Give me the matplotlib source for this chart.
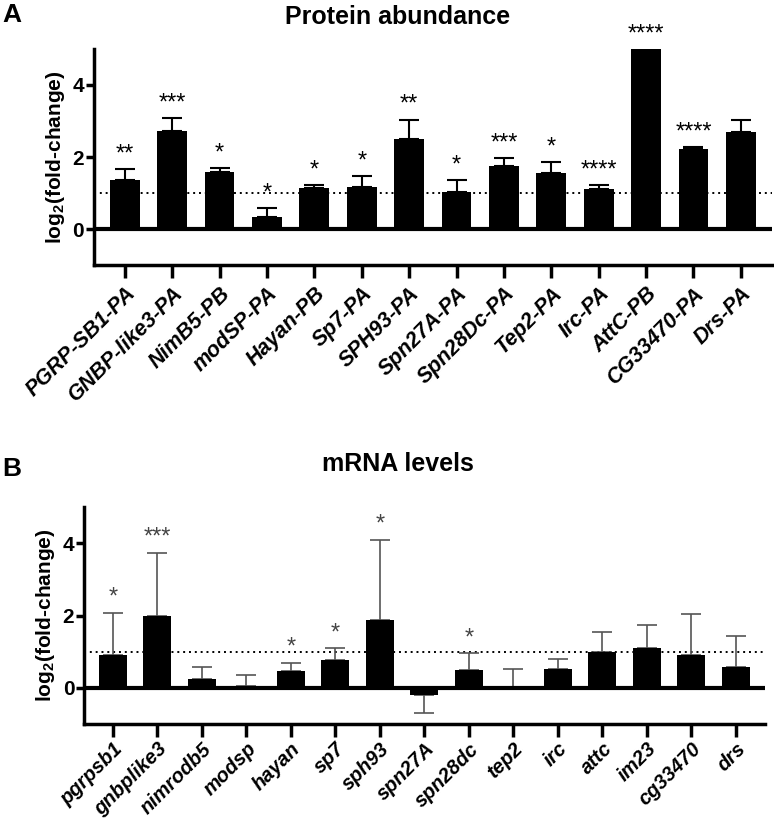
import numpy as np
import matplotlib
matplotlib.use('Agg')
from matplotlib import pyplot as plt

plt.rcParams['font.family'] = ['Liberation Sans', 'DejaVu Sans']
plt.rcParams['mathtext.fontset'] = 'custom'
plt.rcParams['mathtext.rm'] = 'Liberation Sans:bold'
plt.rcParams['mathtext.bf'] = 'Liberation Sans:bold'

# panel A - protein abundance
prot_names = ['PGRP-SB1-PA', 'GNBP-like3-PA', 'NimB5-PB', 'modSP-PA', 'Hayan-PB', 'Sp7-PA',
              'SPH93-PA', 'Spn27A-PA', 'Spn28Dc-PA', 'Tep2-PA', 'Irc-PA', 'AttC-PB',
              'CG33470-PA', 'Drs-PA']
prot_mean = [1.37, 2.73, 1.57, 0.34, 1.14, 1.17, 2.50, 1.02, 1.76, 1.56, 1.12, 5.0, 2.21, 2.70]
prot_err = [0.30, 0.36, 0.12, 0.25, 0.09, 0.30, 0.54, 0.35, 0.20, 0.31, 0.11, 0.0, 0.07, 0.34]
prot_sig = ['**', '***', '*', '*', '*', '*', '**', '*', '***', '*', '****', '****', '****', '']

# panel B - mRNA levels
mrna_names = ['pgrpsb1', 'gnbplike3', 'nimrodb5', 'modsp', 'hayan', 'sp7', 'sph93', 'spn27A',
              'spn28dc', 'tep2', 'irc', 'attc', 'im23', 'cg33470', 'drs']
mrna_mean = [0.91, 2.00, 0.24, 0.06, 0.47, 0.78, 1.88, -0.21, 0.50, 0.0, 0.51, 0.98, 1.09, 0.91, 0.59]
mrna_err = [1.17, 1.74, 0.34, 0.30, 0.23, 0.32, 2.22, 0.49, 0.45, 0.52, 0.28, 0.56, 0.64, 1.13, 0.83]
mrna_sig = ['*', '***', '', '', '*', '*', '*', '', '*', '', '', '', '', '', '']


def bar_panel(ax, names, mean, err, sig, ecolor, scolor, elw, lsize, lpad):
    x = np.arange(len(names))
    mean = np.array(mean)
    err = np.array(err)
    lo = np.where(mean < 0, err, 0)
    hi = np.where(mean < 0, 0, err)
    ax.bar(x, mean, width=0.63, color='black', zorder=2)
    ax.errorbar(x, mean, yerr=[lo, hi], fmt='none', ecolor=ecolor, elinewidth=elw,
                capsize=7, capthick=elw, zorder=1)
    for xi, m, e, s in zip(x, mean, err, sig):
        if s:
            top = max(m, 0) + (e if m >= 0 else 0)
            ax.text(xi, top + 0.1, s, ha='center', va='bottom', fontsize=17,
                    color=scolor, clip_on=False)
    ax.axhline(0, color='black', lw=3, zorder=3)
    ax.axhline(1, color='black', lw=1.4, ls=(0, (1, 2)), zorder=0)
    ax.set_xlim(-0.65, len(names) - 0.35)
    ax.set_ylim(-1, 5)
    ax.set_yticks([0, 2, 4])
    ax.set_xticks(x)
    ax.set_xticklabels(names, rotation=45, ha='right', rotation_mode='anchor',
                       fontsize=lsize, fontweight='bold', style='italic')
    for lab in ax.get_yticklabels():
        lab.set_fontweight('bold')
    ax.tick_params(axis='y', labelsize=15, width=2.5, length=6, pad=1)
    ax.tick_params(axis='x', width=2.5, length=9, pad=lpad)
    ax.spines['top'].set_visible(False)
    ax.spines['right'].set_visible(False)
    ax.spines['left'].set_linewidth(2.5)
    ax.spines['bottom'].set_linewidth(2.5)
    ax.set_ylabel(r'log$_\mathbf{2}$(fold-change)', fontsize=15, fontweight='bold', labelpad=4)


fig = plt.figure(figsize=(7.74, 8.22), dpi=100)
axA = fig.add_axes([0.1214, 0.6776, 0.8756, 0.2628])
axB = fig.add_axes([0.1085, 0.1192, 0.8795, 0.2640])

bar_panel(axA, prot_names, prot_mean, prot_err, prot_sig, 'black', 'black', 1.5, 15.5, 4)
bar_panel(axB, mrna_names, mrna_mean, mrna_err, mrna_sig, '#555555', '#444444', 1.2, 14.5, 2)

fig.text(0.514, 0.979, 'Protein abundance', ha='center', va='center', fontsize=18, fontweight='bold')
fig.text(0.514, 0.4355, 'mRNA levels', ha='center', va='center', fontsize=18, fontweight='bold')
fig.text(0.003, 0.982, 'A', ha='left', va='center', fontsize=19, fontweight='bold')
fig.text(0.003, 0.429, 'B', ha='left', va='center', fontsize=19, fontweight='bold')

fig.savefig('out.png', dpi=100)
